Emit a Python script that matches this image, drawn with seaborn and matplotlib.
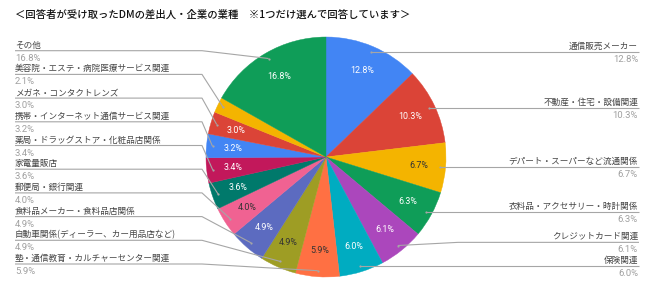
import numpy as np
import matplotlib
matplotlib.use("Agg")
import matplotlib.pyplot as plt
import seaborn as sns

# ---- data ----
title = "＜回答者が受け取ったDMの差出人・企業の業種　※1つだけ選んで回答しています＞"
categories = [
    "通信販売メーカー",
    "不動産・住宅・設備関連",
    "デパート・スーパーなど流通関係",
    "衣料品・アクセサリー・時計関係",
    "クレジットカード関連",
    "保険関連",
    "塾・通信教育・カルチャーセンター関連",
    "自動車関係(ディーラー、カー用品店など)",
    "食料品メーカー・食料品店関係",
    "郵便局・銀行関連",
    "家電量販店",
    "薬局・ドラッグストア・化粧品店関係",
    "携帯・インターネット通信サービス関連",
    "メガネ・コンタクトレンズ",
    "美容院・エステ・病院医療サービス関連",
    "その他",
]
values = [12.8, 10.3, 6.7, 6.3, 6.1, 6.0, 5.9, 4.9, 4.9, 4.0, 3.6, 3.4, 3.2, 3.0, 2.1, 16.8]

# ---- style ----
sns.set_theme(style="white")
plt.rcParams["font.family"] = ["Noto Sans CJK JP", "DejaVu Sans"]

colors = ["#4285F4", "#DB4437", "#F4B400", "#0F9D58", "#AB47BC", "#00ACC1",
          "#FF7043", "#9E9D24", "#5C6BC0", "#F06292", "#00796B", "#C2185B",
          "#4285F4", "#DB4437", "#F4B400", "#0F9D58"]
palette = sns.color_palette(colors)
dark_text = {"#F4B400", "#9E9D24", "#FF7043", "#F06292"}

W, H = 652, 291
fig = plt.figure(figsize=(W / 100, H / 100), dpi=100)
fig.patch.set_facecolor("white")

cx, cy, R = 326, 157, 120
pie_ax = fig.add_axes([(cx - R) / W, (H - cy - R) / H, 2 * R / W, 2 * R / H])
wedges, texts, autotexts = pie_ax.pie(
    values, colors=palette, startangle=90, counterclock=False, radius=1,
    autopct=lambda p: f"{p:.1f}%" if p >= 2.5 else "", pctdistance=0.78,
    wedgeprops=dict(linewidth=0.3, edgecolor=None),
    textprops=dict(fontsize=6.4, family=["Roboto", "DejaVu Sans"]))
for w, c in zip(wedges, colors):
    w.set_edgecolor(c)
for t, c in zip(autotexts, colors):
    t.set_color("#333333" if c in dark_text else "white")
pie_ax.set_xlim(-1, 1)
pie_ax.set_ylim(-1, 1)
pie_ax.set_aspect("equal")
pie_ax.axis("off")

# overlay in pixel coordinates
ov = fig.add_axes([0, 0, 1, 1], zorder=5)
ov.set_xlim(0, W)
ov.set_ylim(H, 0)
ov.axis("off")
ov.patch.set_alpha(0)

ov.text(15, 15, title, fontsize=7.45, fontweight="medium", color="#111111",
        ha="left", va="center")

vals = np.array(values)
cum = np.cumsum(vals) - vals / 2
ang = np.deg2rad(90 - 360 * cum / vals.sum())
ax_ = cx + 0.95 * R * np.cos(ang)
ay_ = cy - 0.95 * R * np.sin(ang)

line_kw = dict(color="#a6a6a6", lw=0.8, solid_capstyle="butt")
name_kw = dict(fontsize=6.2, color="#454545")
pct_kw = dict(fontsize=6.8, color="#a0a0a0", family=["Roboto", "DejaVu Sans"])

right = [i for i in range(len(vals)) if ax_[i] >= cx]
left = [i for i in range(len(vals)) if ax_[i] < cx]

# right side labels
right = sorted(right, key=lambda i: ay_[i])
ry = [ay_[i] for i in right]
gap = 23.5
for k in range(len(ry) - 2, -1, -1):
    ry[k] = min(ry[k], ry[k + 1] - gap)
for i, ly in zip(right, ry):
    if abs(ly - ay_[i]) > 1:
        ov.plot([ax_[i], 458, 639], [ay_[i], ly, ly], **line_kw)
    else:
        ov.plot([ax_[i], 639], [ay_[i], ay_[i]], **line_kw)
        ly = ay_[i]
    ov.plot(ax_[i], ay_[i], "o", ms=1.6, color="#a6a6a6", mec="none")
    ov.text(638, ly - 5.5, categories[i], ha="right", va="center", **name_kw)
    ov.text(638, ly + 7.5, f"{values[i]:.1f}%", ha="right", va="center", **pct_kw)

# left side labels
left = sorted(left, key=lambda i: ay_[i])
for k, i in enumerate(left):
    ly = 50.7 + 23.7 * k
    ov.plot([15, 202, ax_[i]], [ly, ly, ay_[i]], **line_kw)
    ov.plot(ax_[i], ay_[i], "o", ms=1.6, color="#a6a6a6", mec="none")
    ov.text(15, ly - 5.5, categories[i], ha="left", va="center", **name_kw)
    ov.text(15, ly + 7.5, f"{values[i]:.1f}%", ha="left", va="center", **pct_kw)

fig.savefig("out.png", dpi=100, facecolor="white")
